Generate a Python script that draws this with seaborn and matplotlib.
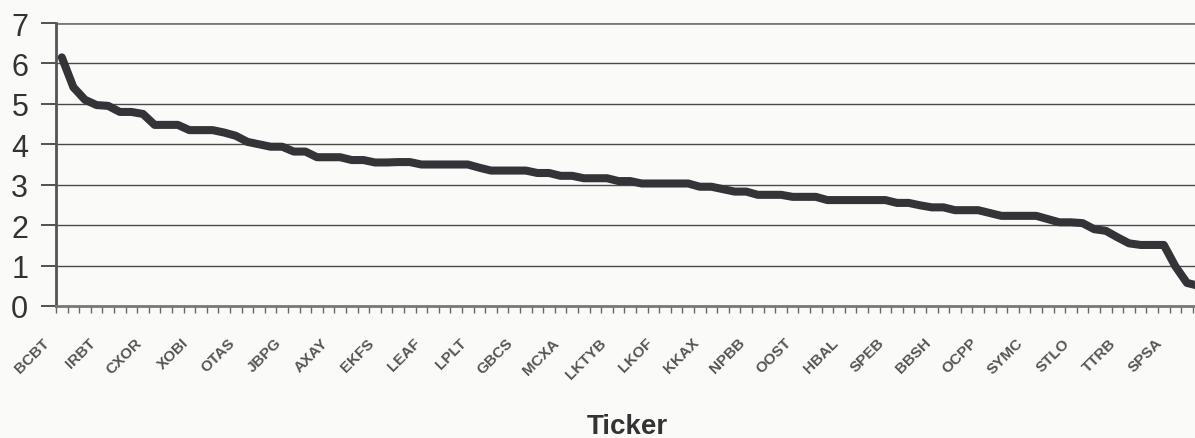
import matplotlib
matplotlib.use("Agg")
import matplotlib.pyplot as plt
import matplotlib.transforms as mtransforms
import numpy as np
import pandas as pd
import seaborn as sns

# ---- data ----
values = [
    6.15, 5.41, 5.10, 4.97, 4.95, 4.80, 4.80, 4.75, 4.48, 4.48,
    4.48, 4.35, 4.35, 4.35, 4.29, 4.21, 4.06, 4.00, 3.94, 3.94,
    3.82, 3.82, 3.68, 3.68, 3.68, 3.61, 3.61, 3.55, 3.55, 3.56,
    3.56, 3.50, 3.50, 3.50, 3.50, 3.50, 3.42, 3.35, 3.35, 3.35,
    3.35, 3.29, 3.29, 3.22, 3.22, 3.16, 3.16, 3.16, 3.09, 3.09,
    3.03, 3.03, 3.03, 3.03, 3.03, 2.95, 2.95, 2.89, 2.83, 2.83,
    2.75, 2.75, 2.75, 2.70, 2.70, 2.70, 2.62, 2.62, 2.62, 2.62,
    2.62, 2.62, 2.55, 2.55, 2.49, 2.44, 2.44, 2.37, 2.37, 2.37,
    2.30, 2.23, 2.23, 2.23, 2.23, 2.15, 2.07, 2.07, 2.05, 1.90,
    1.86, 1.70, 1.55, 1.51, 1.51, 1.51, 0.98, 0.57, 0.50,
]
tick_labels = [
    "BCBT", "IRBT", "CXOR", "XOBI", "OTAS", "JBPG", "AXAY", "EKFS", "LEAF",
    "LPLT", "GBCS", "MCXA", "LKTYB", "LKOF", "KKAX", "NPBB", "OOST",
    "HBAL", "SPEB", "BBSH", "OCPP", "SYMC", "STLO", "TTRB", "SPSA",
]
label_step = 4
y_ticks = [0, 1, 2, 3, 4, 5, 6, 7]

df = pd.DataFrame({"pos": np.arange(len(values)), "value": values})

W, H = 1195, 439
bg = "#fafaf8"
sns.set_style("white", {"axes.facecolor": bg, "figure.facecolor": bg})
plt.rcParams["font.family"] = ["Liberation Sans", "DejaVu Sans"]

fig = plt.figure(figsize=(W / 100, H / 100), dpi=100)
n = len(values)
step_px = 11.6
left, bottom, top = 56, 307, 24
ax = fig.add_axes([left / W, (H - bottom) / H, n * step_px / W, (bottom - top) / H])
ax.set_facecolor(bg)

for v in y_ticks[1:]:
    ax.axhline(v, color="#7a7a7a" if v == 7 else "#4a4a4a",
               lw=2.0 if v == 7 else 1.0, zorder=1)

sns.lineplot(data=df, x="pos", y="value", ax=ax, color="#333338", lw=5.8,
             solid_capstyle="round", solid_joinstyle="round", zorder=3)

ax.set_xlim(-0.5, n - 0.5)
ax.set_ylim(0, 7)
ax.set_yticks(y_ticks)
ax.set_yticklabels([str(v) for v in y_ticks], fontsize=22, color="#333333")

label_pos = list(range(0, n, label_step))[:len(tick_labels)]
ax.set_xticks(label_pos)
ax.set_xticklabels(tick_labels, rotation=45, ha="right", fontsize=11,
                   color="#555555", fontweight="bold")
ax.set_xticks(np.arange(-0.5, n, 1.0), minor=True)
ax.tick_params(axis="x", which="major", length=0, pad=21)
ax.tick_params(axis="x", which="minor", length=5, width=1, color="#666666",
               direction="out", bottom=True)
ax.tick_params(axis="y", length=11, width=1.3, color="#444444",
               direction="out", pad=9, left=True)

offset = mtransforms.ScaledTranslation(-10 / 100, 0, fig.dpi_scale_trans)
for lab in ax.get_xticklabels():
    lab.set_transform(lab.get_transform() + offset)

for s in ["top", "right"]:
    ax.spines[s].set_visible(False)
ax.spines["left"].set_color("#555555")
ax.spines["left"].set_linewidth(2)
ax.spines["bottom"].set_color("#777777")
ax.spines["bottom"].set_linewidth(2)

ax.set_xlabel("")
ax.set_ylabel("")
fig.text(627 / W, (H - 434) / H, "Ticker", ha="center", va="baseline",
         fontsize=20, fontweight="bold", color="#333333")

fig.savefig("out.png", dpi=100, facecolor=bg)
